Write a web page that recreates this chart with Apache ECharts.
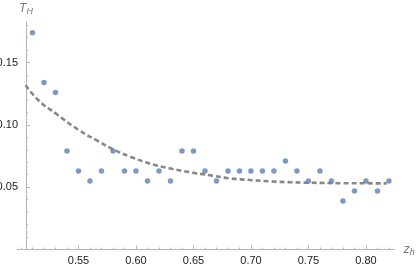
<!DOCTYPE html>
<html><head><meta charset="utf-8">
<script src="https://cdn.jsdelivr.net/npm/echarts@6/dist/echarts.min.js"></script>
<style>html,body{margin:0;padding:0;background:#fff}#c{width:417px;height:268px}</style>
</head><body><div id="c"></div>
<script>
// Data points (z_h, T_H)
var zh = [0.51,0.52,0.53,0.54,0.55,0.56,0.57,0.58,0.59,0.60,0.61,0.62,0.63,0.64,0.65,0.66,0.67,0.68,0.69,0.70,0.71,0.72,0.73,0.74,0.75,0.76,0.77,0.78,0.79,0.80,0.81,0.82];
var TH = [0.174,0.134,0.126,0.079,0.063,0.055,0.063,0.079,0.063,0.063,0.055,0.063,0.055,0.079,0.079,0.063,0.055,0.063,0.063,0.063,0.063,0.063,0.071,0.063,0.055,0.063,0.055,0.039,0.047,0.055,0.047,0.055];
// Dashed fit curve
var fitX = [0.500,0.515,0.532,0.550,0.567,0.581,0.595,0.612,0.630,0.647,0.665,0.682,0.699,0.717,0.734,0.751,0.780,0.818];
var fitY = [0.137,0.120,0.108,0.096,0.087,0.080,0.0745,0.069,0.065,0.062,0.0595,0.057,0.0558,0.0547,0.054,0.0536,0.0532,0.0531];
// Tick labels
var xMajor = [0.55,0.60,0.65,0.70,0.75,0.80];
var xMinor = [0.51,0.52,0.53,0.54,0.56,0.57,0.58,0.59,0.61,0.62,0.63,0.64,0.66,0.67,0.68,0.69,0.71,0.72,0.73,0.74,0.76,0.77,0.78,0.79,0.81,0.82];
var xExtTicks = [0.50];
var yMajor = [0.05,0.10,0.15];
var yTicks = [0,0.05,0.10,0.15];
var yMinor = [0.01,0.02,0.03,0.04,0.06,0.07,0.08,0.09,0.11,0.12,0.13,0.14,0.16,0.17,0.18];

var axisGray = '#b5b5b5';
var xMin = 0.50435, xMax = 0.825, xExtMin = 0.4965, yMax = 0.1826;
var pts = zh.map(function(x,i){return [x,TH[i]];});
var fit = fitX.map(function(x,i){return [x,fitY[i]];});
var nameRich = {
  i:{fontStyle:'italic',fontSize:12,color:'#777',fontFamily:'Liberation Sans'},
  s:{fontStyle:'italic',fontSize:9,color:'#777',verticalAlign:'bottom',padding:[6,0,0,0],fontFamily:'Liberation Sans'}
};

var chart = echarts.init(document.getElementById('c'), null, {renderer:'canvas'});
chart.setOption({
  animation:false,
  grid:[
    {left:26, top:22, width:368.7, height:227.5, containLabel:false, outerBoundsMode:'none'},
    {left:17, top:22, width:9, height:227.5, containLabel:false, outerBoundsMode:'none'}
  ],
  xAxis:[{
    gridIndex:0, type:'value', min:xMin, max:xMax,
    name:'{i|z}{s|h}', nameLocation:'end', nameGap:9,
    nameTextStyle:{rich:nameRich},
    axisLine:{show:true,lineStyle:{color:axisGray,width:1}},
    axisTick:{show:true,inside:true,length:4,customValues:xMajor,lineStyle:{color:axisGray}},
    axisLabel:{show:true,customValues:xMajor,margin:6,fontSize:11,color:'#222',fontFamily:'Liberation Sans',formatter:function(v){return v.toFixed(2);}},
    splitLine:{show:false}
  },{
    gridIndex:0, type:'value', min:xMin, max:xMax, position:'bottom',
    axisLine:{show:false},
    axisTick:{show:true,inside:true,length:2,customValues:xMinor,lineStyle:{color:axisGray}},
    axisLabel:{show:false}, splitLine:{show:false}
  },{
    gridIndex:1, type:'value', min:xExtMin, max:xMin, position:'bottom',
    axisLine:{show:true,lineStyle:{color:axisGray,width:1}},
    axisTick:{show:true,inside:true,length:2,customValues:xExtTicks,lineStyle:{color:axisGray}},
    axisLabel:{show:false}, splitLine:{show:false}
  }],
  yAxis:[{
    gridIndex:0, type:'value', min:0, max:yMax,
    name:'{i|T}{s|H}', nameLocation:'end', nameGap:6,
    nameTextStyle:{align:'center',rich:nameRich},
    axisLine:{show:true,lineStyle:{color:axisGray,width:1}},
    axisTick:{show:true,inside:true,length:4,customValues:yTicks,lineStyle:{color:axisGray}},
    axisLabel:{customValues:yMajor,margin:8,fontSize:11,color:'#222',fontFamily:'Liberation Sans',formatter:function(v){return v.toFixed(2);}},
    splitLine:{show:false}
  },{
    gridIndex:0, type:'value', min:0, max:yMax, position:'left',
    axisLine:{show:false},
    axisTick:{show:true,inside:true,length:2,customValues:yMinor,lineStyle:{color:axisGray}},
    axisLabel:{show:false}, splitLine:{show:false}
  },{
    gridIndex:1, type:'value', min:0, max:yMax, show:false
  }],
  series:[{
    type:'line', xAxisIndex:0, yAxisIndex:0, data:fit, smooth:true, showSymbol:false, symbol:'none',
    lineStyle:{color:'#888',width:2.6,type:[5,3]}, z:2
  },{
    type:'scatter', xAxisIndex:0, yAxisIndex:0, data:pts, symbolSize:5.5,
    itemStyle:{color:'#5E81B5'}, z:3
  }]
});
</script></body></html>
